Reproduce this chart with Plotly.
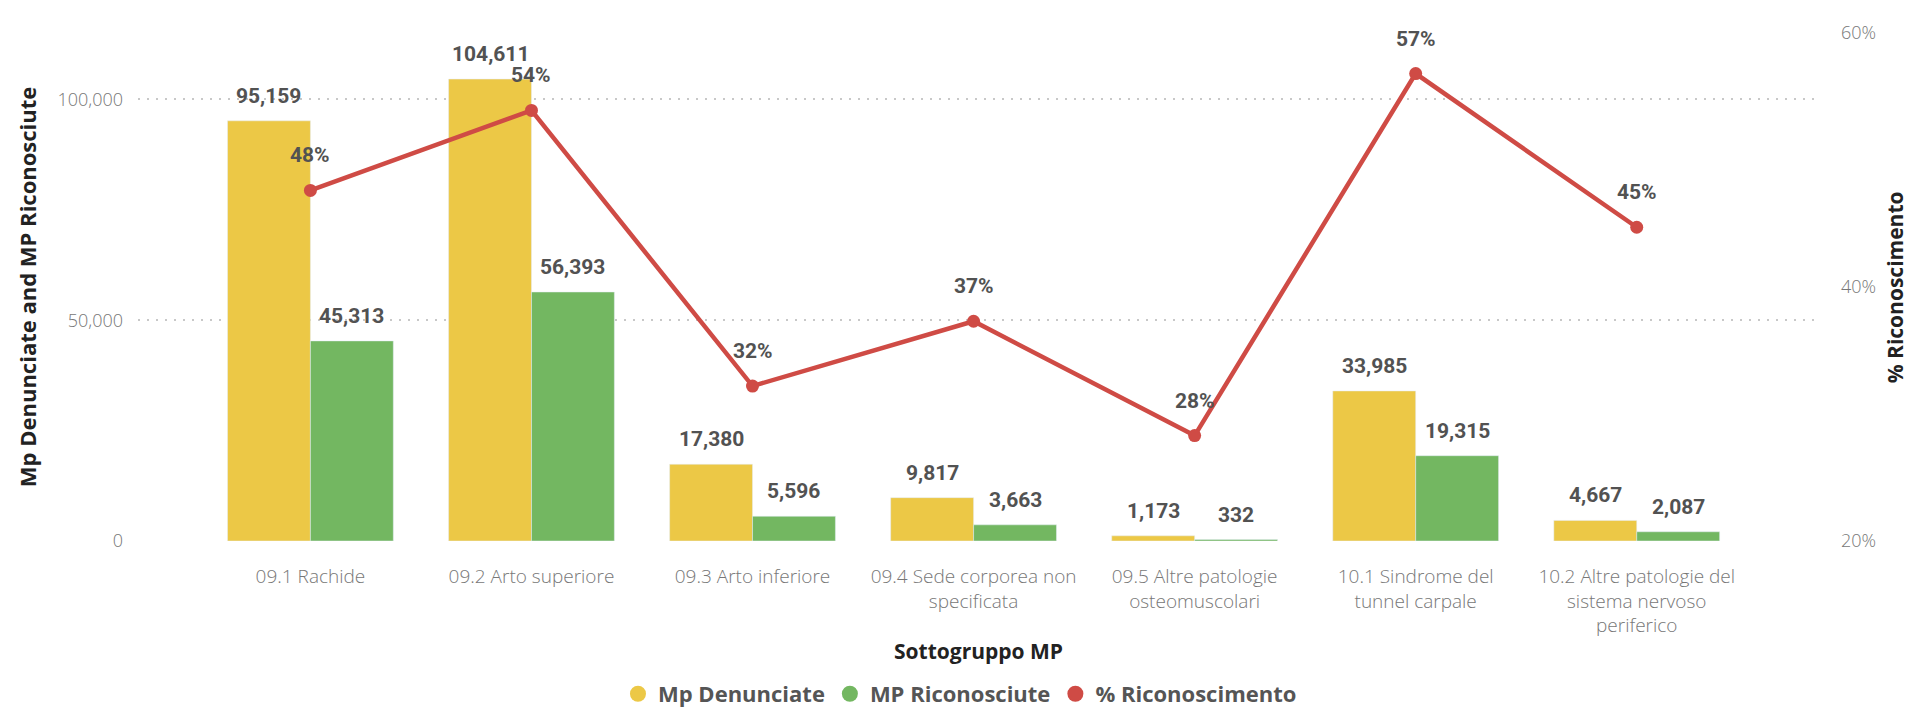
import plotly.graph_objects as go

categories = [
    "09.1 Rachide",
    "09.2 Arto superiore",
    "09.3 Arto inferiore",
    "09.4 Sede corporea non<br>specificata",
    "09.5 Altre patologie<br>osteomuscolari",
    "10.1 Sindrome del<br>tunnel carpale",
    "10.2 Altre patologie del<br>sistema nervoso<br>periferico",
]
mp_denunciate = [95159, 104611, 17380, 9817, 1173, 33985, 4667]
mp_riconosciute = [45313, 56393, 5596, 3663, 332, 19315, 2087]
pct_riconoscimento = [0.476, 0.539, 0.322, 0.373, 0.283, 0.568, 0.447]

YELLOW = "#ECC846"
GREEN = "#73B761"
RED = "#CF4B45"
LABEL = "#525252"
TICK = "#777777"
LABEL_FONT = dict(family="Roboto, sans-serif", size=21, color=LABEL, weight="bold")

x_idx = list(range(len(categories)))

fig = go.Figure()
fig.add_trace(go.Bar(x=x_idx, y=mp_denunciate, name="Mp Denunciate",
                     marker_color=YELLOW, showlegend=False))
fig.add_trace(go.Bar(x=x_idx, y=mp_riconosciute, name="MP Riconosciute",
                     marker_color=GREEN, showlegend=False))
fig.add_trace(go.Scatter(x=x_idx, y=pct_riconoscimento, yaxis="y2",
                         name="% Riconoscimento", mode="lines+markers",
                         line=dict(color=RED, width=4.5),
                         marker=dict(color=RED, size=13), showlegend=False))

# legend entries with circle symbols
for nm, col in [("Mp Denunciate", YELLOW), ("MP Riconosciute", GREEN), ("% Riconoscimento", RED)]:
    fig.add_trace(go.Scatter(x=[None], y=[None], mode="markers", name=nm,
                             marker=dict(color=col, size=20, symbol="circle")))

annotations = []
bw = 0.375
for i, (d, r, p) in enumerate(zip(mp_denunciate, mp_riconosciute, pct_riconoscimento)):
    annotations.append(dict(x=i - bw / 2, y=d, xref="x", yref="y", text=f"{d:,}",
                            showarrow=False, yshift=25, font=LABEL_FONT))
    annotations.append(dict(x=i + bw / 2, y=r, xref="x", yref="y", text=f"{r:,}",
                            showarrow=False, yshift=25, font=LABEL_FONT))
    annotations.append(dict(x=i, y=p, xref="x", yref="y2", text=f"{round(p*100):d}%",
                            showarrow=False, yshift=35, font=LABEL_FONT))

TITLE_FONT = dict(family="Open Sans, sans-serif", size=21, color="#222222", weight="bold")
annotations.append(dict(x=0.5, y=-0.215, xref="paper", yref="paper", text="Sottogruppo MP",
                        showarrow=False, font=TITLE_FONT,
                        xanchor="center", yanchor="middle"))
annotations.append(dict(x=-0.066, y=0.496, xref="paper", yref="paper",
                        text="Mp Denunciate and MP Riconosciute", textangle=-90,
                        showarrow=False, font=dict(TITLE_FONT, size=22),
                        xanchor="center", yanchor="middle"))
annotations.append(dict(x=1.046, y=0.496, xref="paper", yref="paper",
                        text="% Riconoscimento", textangle=-90,
                        showarrow=False, font=TITLE_FONT, xanchor="center", yanchor="middle"))

XTICK_FONT = dict(family="Open Sans, sans-serif", size=19, color=TICK, weight=300)
YTICK_FONT = dict(family="Open Sans, sans-serif", size=18, color=TICK, weight=300)

# the page body adds an 8px offset, so the figure is 8px smaller than the window
fig.update_layout(
    width=1907, height=713,
    margin=dict(l=130, r=97, t=17, b=180),
    paper_bgcolor="white", plot_bgcolor="white",
    barmode="group", bargap=0.25, bargroupgap=0,
    annotations=annotations,
    xaxis=dict(tickmode="array", tickvals=x_idx, ticktext=categories,
               range=[-0.78, 6.82], showgrid=False, zeroline=False, showline=False,
               tickfont=XTICK_FONT, ticks="", ticklabelstandoff=22),
    yaxis=dict(range=[0, 115955], tickvals=[0, 50000, 100000],
               ticktext=["0", "50,000", "100,000"],
               showgrid=True, gridcolor="#c8c8c8", gridwidth=1.5, griddash="2px,7px",
               zeroline=False, showline=False, tickfont=YTICK_FONT, ticks="",
               ticklabelstandoff=14),
    yaxis2=dict(range=[0.2, 0.6031], overlaying="y", side="right",
                tickvals=[0.2, 0.4, 0.6], ticktext=["20%", "40%", "60%"],
                showgrid=False, zeroline=False, showline=False,
                tickfont=YTICK_FONT, ticks="", ticklabelstandoff=22),
    legend=dict(orientation="h", xref="container", yref="container",
                x=0.4992, xanchor="center", y=0.0379, yanchor="middle",
                font=dict(family="Open Sans, sans-serif", size=22, color="#555555", weight="bold"),
                itemwidth=30, tracegroupgap=0),
)

fig.write_html("out.html")
